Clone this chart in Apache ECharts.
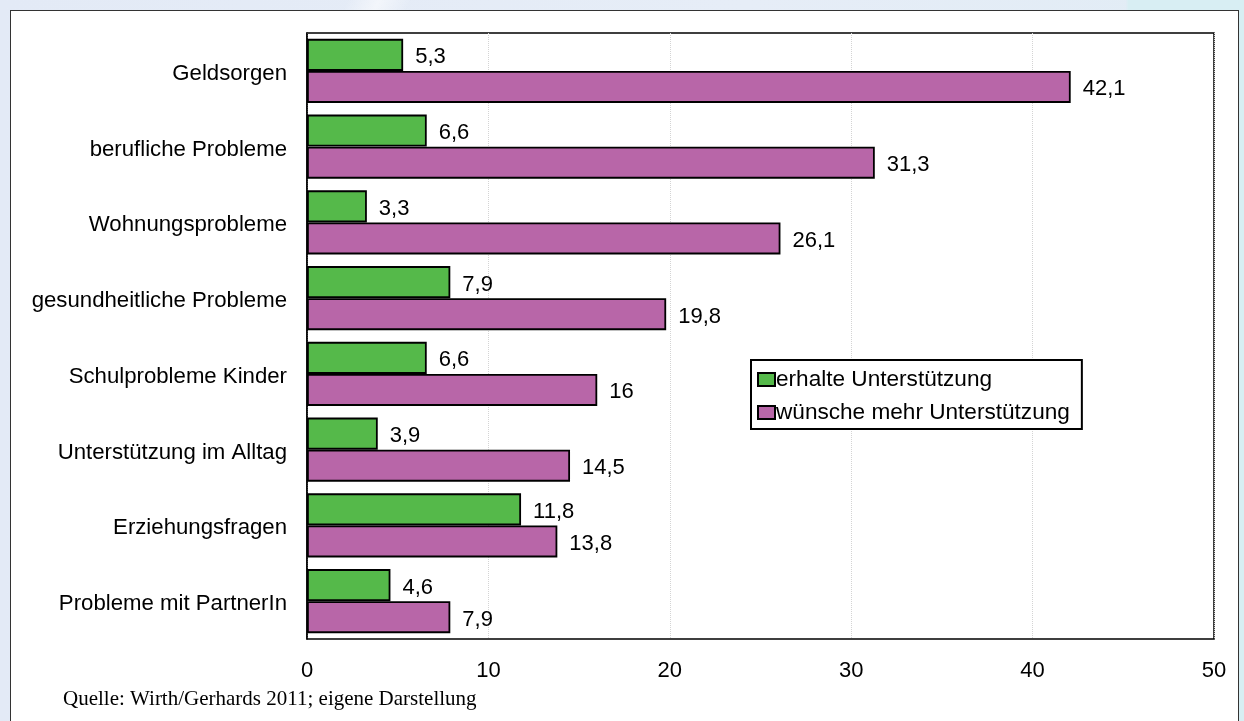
<!DOCTYPE html>
<html>
<head>
<meta charset="utf-8">
<title>Unterstützung</title>
<script src="https://cdn.jsdelivr.net/npm/echarts@6/dist/echarts.min.js"></script>
<style>
  html, body { margin: 0; padding: 0; width: 1244px; height: 721px; overflow: hidden; }
  body {
    background:
      linear-gradient(90deg, rgba(217,238,243,0) 0%, rgba(217,238,243,0) 90.5%, #d8eef3 90.7%, #d8eef3 100%),
      linear-gradient(115deg, rgba(255,255,255,0) 0%, rgba(255,255,255,0) 22%, rgba(255,255,255,0.55) 24%, rgba(255,255,255,0) 26%),
      linear-gradient(90deg, #e3eaf6 0%, #e6edf7 60%, #e1ecf5 100%);
  }
  #frame {
    position: absolute; left: 10px; top: 10px; width: 1229px; height: 720px;
    background: #fff; border: 1.5px solid #333; box-sizing: border-box;
  }
  #chart { position: absolute; left: 0; top: 0; width: 1244px; height: 721px; }
</style>
</head>
<body>
<div id="frame"></div>
<div id="chart"></div>
<script>
// Bereiche, in denen Eltern Unterstützung erhalten bzw. sich mehr wünschen (Prozent)
const categories = [
  'Geldsorgen',
  'berufliche Probleme',
  'Wohnungsprobleme',
  'gesundheitliche Probleme',
  'Schulprobleme Kinder',
  'Unterstützung im Alltag',
  'Erziehungsfragen',
  'Probleme mit PartnerIn'
];
const erhalteUnterstuetzung = [5.3, 6.6, 3.3, 7.9, 6.6, 3.9, 11.8, 4.6];
const wuenscheMehrUnterstuetzung = [42.1, 31.3, 26.1, 19.8, 16, 14.5, 13.8, 7.9];
const seriesNames = ['erhalte Unterstützung', 'wünsche mehr Unterstützung'];
const xTicks = [0, 10, 20, 30, 40, 50];
const sourceNote = 'Quelle: Wirth/Gerhards 2011; eigene Darstellung';

const FONT = 'Liberation Sans, Arial, sans-serif';
const fmt = v => String(v).replace('.', ',');

const chart = echarts.init(document.getElementById('chart'), null, { renderer: 'canvas' });

const labelStyle = {
  show: true,
  position: 'right',
  distance: 12,
  offset: [0, 2.5],
  color: '#000',
  fontFamily: FONT,
  fontSize: 22,
  formatter: p => fmt(p.value)
};

chart.setOption({
  animation: false,
  grid: {
    left: 307, right: 30, top: 33, height: 606,
    show: true, borderColor: '#000', borderWidth: 1.5, backgroundColor: 'transparent'
  },
  xAxis: {
    type: 'value',
    min: xTicks[0],
    max: xTicks[xTicks.length - 1],
    interval: 10,
    axisLine: { show: false },
    axisTick: { show: false },
    splitLine: { show: true, lineStyle: { color: '#d4d4d4', type: 'dotted', width: 1 } },
    axisLabel: { color: '#000', fontFamily: FONT, fontSize: 22, margin: 21, formatter: v => fmt(v) }
  },
  yAxis: {
    type: 'category',
    data: categories,
    inverse: true,
    axisLine: { show: true, lineStyle: { color: '#000', width: 1.5 } },
    axisTick: { show: false },
    axisLabel: {
      color: '#000', fontFamily: FONT, fontSize: 22.2, margin: 20,
      verticalAlign: 'top', lineHeight: 6
    }
  },
  legend: {
    orient: 'vertical',
    left: 751,
    top: 360,
    backgroundColor: '#fff',
    borderColor: '#000',
    borderWidth: 2,
    borderRadius: 0,
    padding: [8, 12, 5, 6],
    itemGap: 10,
    itemWidth: 17,
    itemHeight: 13,
    icon: 'rect',
    selectedMode: false,
    textStyle: { color: '#000', fontFamily: FONT, fontSize: 22.6, lineHeight: 22, padding: [0, 0, 0, -4] },
    data: seriesNames
  },
  graphic: [{
    type: 'text',
    left: 63,
    top: 689,
    style: { text: sourceNote, fill: '#000', font: '21px "Liberation Serif", "Times New Roman", serif' }
  }],
  series: [
    {
      name: seriesNames[0],
      type: 'bar',
      data: erhalteUnterstuetzung,
      barGap: '0%',
      barCategoryGap: '15.5%',
      itemStyle: { color: '#55b94a', borderColor: '#000', borderWidth: 1.8 },
      label: labelStyle
    },
    {
      name: seriesNames[1],
      type: 'bar',
      data: wuenscheMehrUnterstuetzung,
      barGap: '0%',
      barCategoryGap: '15.5%',
      itemStyle: { color: '#b866a8', borderColor: '#000', borderWidth: 1.8 },
      label: labelStyle
    }
  ]
});
</script>
</body>
</html>
